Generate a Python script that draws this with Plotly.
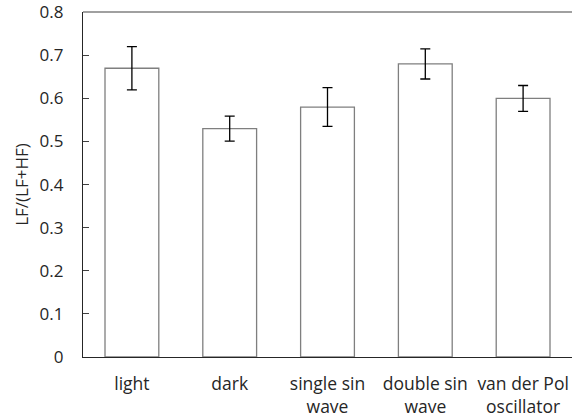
import plotly.graph_objects as go

categories = ["light", "dark", "single sin<br>wave", "double sin<br>wave", "van der Pol<br>oscillator"]
values = [0.67, 0.53, 0.58, 0.68, 0.60]
errors = [0.05, 0.029, 0.045, 0.035, 0.03]
y_ticks = [0, 0.1, 0.2, 0.3, 0.4, 0.5, 0.6, 0.7, 0.8]
y_ticktext = ["0", "0.1", "0.2", "0.3", "0.4", "0.5", "0.6", "0.7", "0.8"]

font_family = "Open Sans, sans-serif"

fig = go.Figure(go.Bar(
    x=list(range(len(categories))),
    y=values,
    width=0.55,
    marker=dict(color="white", line=dict(color="#7f7f7f", width=1.3)),
    error_y=dict(type="data", array=errors, color="black", thickness=1.3, width=5),
))

fig.add_shape(type="line", xref="paper", yref="paper", x0=0, x1=1.01, y0=1, y1=1,
              line=dict(color="#808080", width=1.3))

fig.update_layout(
    width=572, height=418,
    margin=dict(l=83, r=0, t=12, b=61),
    paper_bgcolor="white", plot_bgcolor="white",
    showlegend=False,
    font=dict(family=font_family, size=17, color="#262626"),
    xaxis=dict(
        range=[-0.5, 4.5],
        tickvals=list(range(len(categories))),
        ticktext=categories,
        showline=True, linecolor="#262626", linewidth=1.3,
        ticks="", showgrid=False, zeroline=False,
        ticklabelstandoff=11,
        tickfont=dict(size=17.5, color="#262626"),
    ),
    yaxis=dict(
        range=[0, 0.8005],
        tickvals=y_ticks,
        ticktext=y_ticktext,
        showline=True, linecolor="#262626", linewidth=1.3,
        ticks="inside", ticklen=6, tickcolor="#404040",
        showgrid=False, zeroline=False,
        ticklabelstandoff=15,
        ticklabeloverflow="allow",
        tickfont=dict(size=17, color="#262626"),
        title=dict(text="LF/(LF+HF)", font=dict(size=17, color="#262626"), standoff=6),
    ),
)

fig.write_html("out.html")
